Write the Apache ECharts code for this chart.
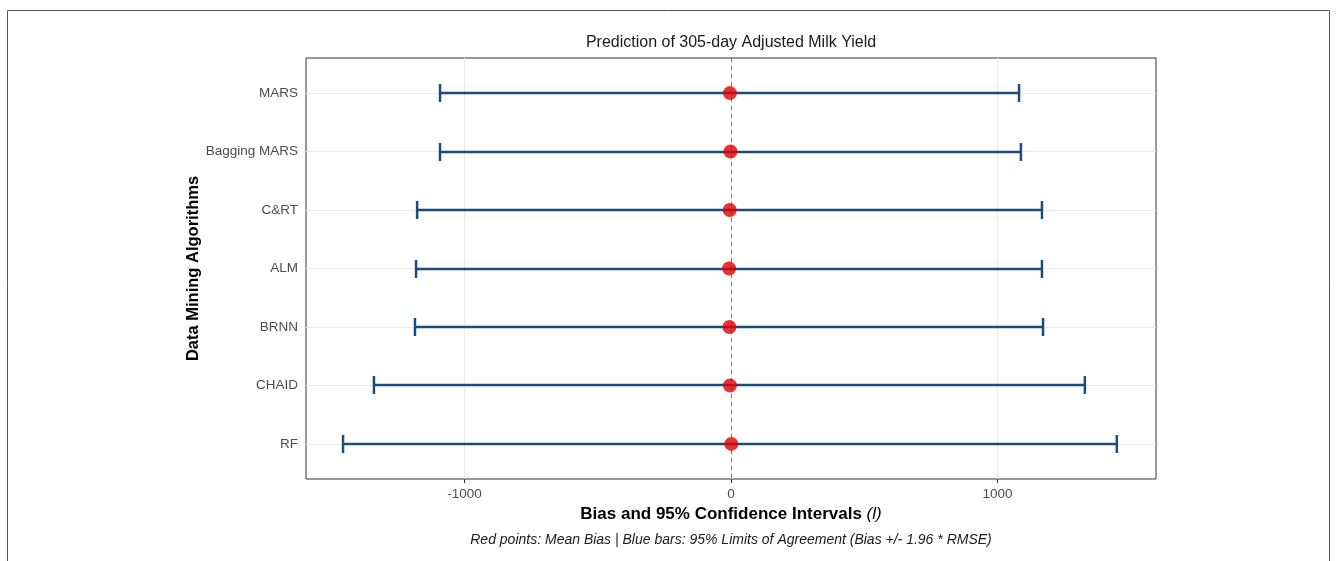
<!DOCTYPE html>
<html>
<head>
<meta charset="utf-8">
<title>Prediction of 305-day Adjusted Milk Yield</title>
<script src="https://cdn.jsdelivr.net/npm/echarts@6/dist/echarts.min.js"></script>
<style>
  html, body { margin: 0; padding: 0; background: #fff; }
  #chart { width: 1336px; height: 561px; }
</style>
</head>
<body>
<div id="chart"></div>
<script>
// data
const categories = ['MARS', 'Bagging MARS', 'C&RT', 'ALM', 'BRNN', 'CHAID', 'RF'];
const meanBias = [-4, -2, -5, -7, -6, -4, 1];
const lowerLoA = [-1092, -1092, -1178, -1182, -1186, -1340, -1456];
const upperLoA = [1081, 1088, 1167, 1167, 1171, 1328, 1448];
const xTicks = [-1000, 0, 1000];

const font = 'Liberation Sans, Arial, sans-serif';
const barColor = '#1b4c7c';
const rowPos = categories.map((c, i) => i + 1);

const chart = echarts.init(document.getElementById('chart'));

const option = {
    animation: false,
    textStyle: { fontFamily: font },
    grid: {
        left: 306, right: 180, top: 58, bottom: 82,
        show: true, borderColor: '#333', borderWidth: 1, backgroundColor: '#fff'
    },
    graphic: [
        { type: 'rect', shape: { x: 7.5, y: 10.5, width: 1322, height: 600 },
          style: { fill: 'none', stroke: '#555', lineWidth: 1 }, silent: true, z: -10 },
        { type: 'text', x: 731, y: 35,
          style: { text: 'Prediction of 305-day Adjusted Milk Yield', fontFamily: font, fontSize: 16,
                   fill: '#1a1a1a', textAlign: 'center' }, z: 10 },
        { type: 'text', x: 731, y: 533,
          style: { text: 'Red points: Mean Bias | Blue bars: 95% Limits of Agreement (Bias +/- 1.96 * RMSE)',
                   fontFamily: font, fontSize: 14, fontStyle: 'italic', fill: '#1a1a1a', textAlign: 'center' }, z: 10 }
    ],
    xAxis: {
        type: 'value',
        min: -1595, max: 1595,
        name: '{b|Bias and 95% Confidence Intervals }{i|(l)}',
        nameLocation: 'middle',
        nameGap: 26,
        nameTextStyle: {
            rich: {
                b: { fontFamily: font, fontWeight: 'bold', fontSize: 17, color: '#000' },
                i: { fontFamily: font, fontStyle: 'italic', fontSize: 17, color: '#000' }
            }
        },
        axisLine: { show: false },
        axisTick: { show: true, length: 4, customValues: xTicks, lineStyle: { color: '#333' } },
        axisLabel: { customValues: xTicks, color: '#4d4d4d', fontSize: 13.5, margin: 8,
                     formatter: v => String(v) },
        splitLine: { show: false }
    },
    yAxis: {
        type: 'value',
        inverse: true,
        min: 0.4, max: 7.6,
        name: 'Data Mining Algorithms',
        nameLocation: 'middle',
        nameGap: 104,
        nameMoveOverlap: false,
        nameTextStyle: { fontFamily: font, fontWeight: 'bold', fontSize: 16.5, color: '#000' },
        axisLine: { show: false },
        axisTick: { show: true, length: 4, customValues: rowPos, lineStyle: { color: '#333' } },
        axisLabel: {
            customValues: rowPos, color: '#4d4d4d', fontSize: 13.5, margin: 8,
            formatter: v => categories[Math.round(v) - 1] || ''
        },
        splitLine: { show: false }
    },
    series: [
        {
            // grid lines
            type: 'line', data: [], silent: true, z: 1,
            markLine: {
                silent: true, symbol: 'none', label: { show: false }, z: 0,
                lineStyle: { color: '#ebebeb', width: 1, type: 'solid' },
                data: rowPos.map(p => ({ yAxis: p })).concat(xTicks.map(t => ({ xAxis: t })))
            }
        },
        {
            type: 'custom',
            z: 2,
            data: categories.map((c, i) => [lowerLoA[i], upperLoA[i], i + 1]),
            renderItem: (params, api) => {
                const a = api.coord([api.value(0), api.value(2)]);
                const b = api.coord([api.value(1), api.value(2)]);
                const y = Math.round(a[1]);
                const h = 9;
                const st = { stroke: barColor, lineWidth: 2.5 };
                return {
                    type: 'group',
                    children: [
                        { type: 'line', shape: { x1: a[0], y1: y, x2: b[0], y2: y }, style: st },
                        { type: 'line', shape: { x1: a[0], y1: y - h, x2: a[0], y2: y + h }, style: st },
                        { type: 'line', shape: { x1: b[0], y1: y - h, x2: b[0], y2: y + h }, style: st }
                    ]
                };
            }
        },
        {
            type: 'scatter',
            z: 4,
            symbolSize: 14,
            itemStyle: { color: '#e00000' },
            data: categories.map((c, i) => [meanBias[i], i + 1]),
            markLine: {
                silent: true, symbol: 'none', label: { show: false }, z: 3,
                lineStyle: { color: '#777', width: 1, type: [4, 4] },
                data: [{ xAxis: 0 }]
            }
        }
    ]
};

chart.setOption(option);
</script>
</body>
</html>
